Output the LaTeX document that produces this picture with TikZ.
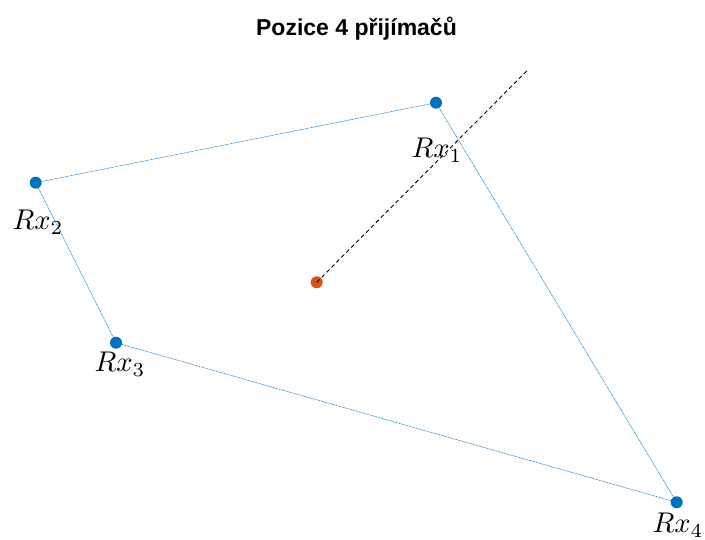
\documentclass[tikz,border=0pt]{standalone}
\usepackage{fontspec}
\newfontfamily\titlefont{Liberation Sans}
\definecolor{mblue}{rgb}{0,0.447,0.741}
\definecolor{mred}{rgb}{0.85,0.325,0.098}
\tikzset{
  rxdot/.style={circle, fill=mblue, inner sep=0pt, minimum size=12pt},
  srcdot/.style={circle, fill=mred, inner sep=0pt, minimum size=12pt},
  edge/.style={draw=mblue, line width=0.55pt, dash pattern=on 0.9pt off 0.7pt},
  rxlabel/.style={anchor=base west, inner sep=0pt, scale=2.85, transform shape},
  ray/.style={draw=black, line width=0.9pt, dash pattern=on 4pt off 3pt}
}
\begin{document}
\begin{tikzpicture}[x=1pt,y=1pt]
\useasboundingbox (0,0) rectangle (705,540);
\coordinate (p1) at (436,437.3);
\coordinate (p2) at (35.7,357.3);
\coordinate (p3) at (116,197.3);
\coordinate (p4) at (676.7,37.7);
\coordinate (rayend) at (527.7,470);
\node[anchor=base, inner sep=0pt, font=\titlefont\bfseries\fontsize{23}{28}\selectfont] (title) at (356.5,504) {Pozice 4 přijímačů};
\draw[edge] (p1) -- (p2) -- (p3) -- (p4) -- cycle;
\node[srcdot] (src) at (316.7,257.7) {};
\draw[ray] (src.center) -- (rayend);
\node[rxdot] (rx1) at (p1) {};
\node[rxdot] (rx2) at (p2) {};
\node[rxdot] (rx3) at (p3) {};
\node[rxdot] (rx4) at (p4) {};
\node[rxlabel] (l1) at (411,382) {$Rx_1$};
\node[rxlabel] (l2) at (12,310) {$Rx_2$};
\node[rxlabel] (l3) at (94,168) {$Rx_3$};
\node[rxlabel] (l4) at (652,7) {$Rx_4$};
\end{tikzpicture}
\end{document}
